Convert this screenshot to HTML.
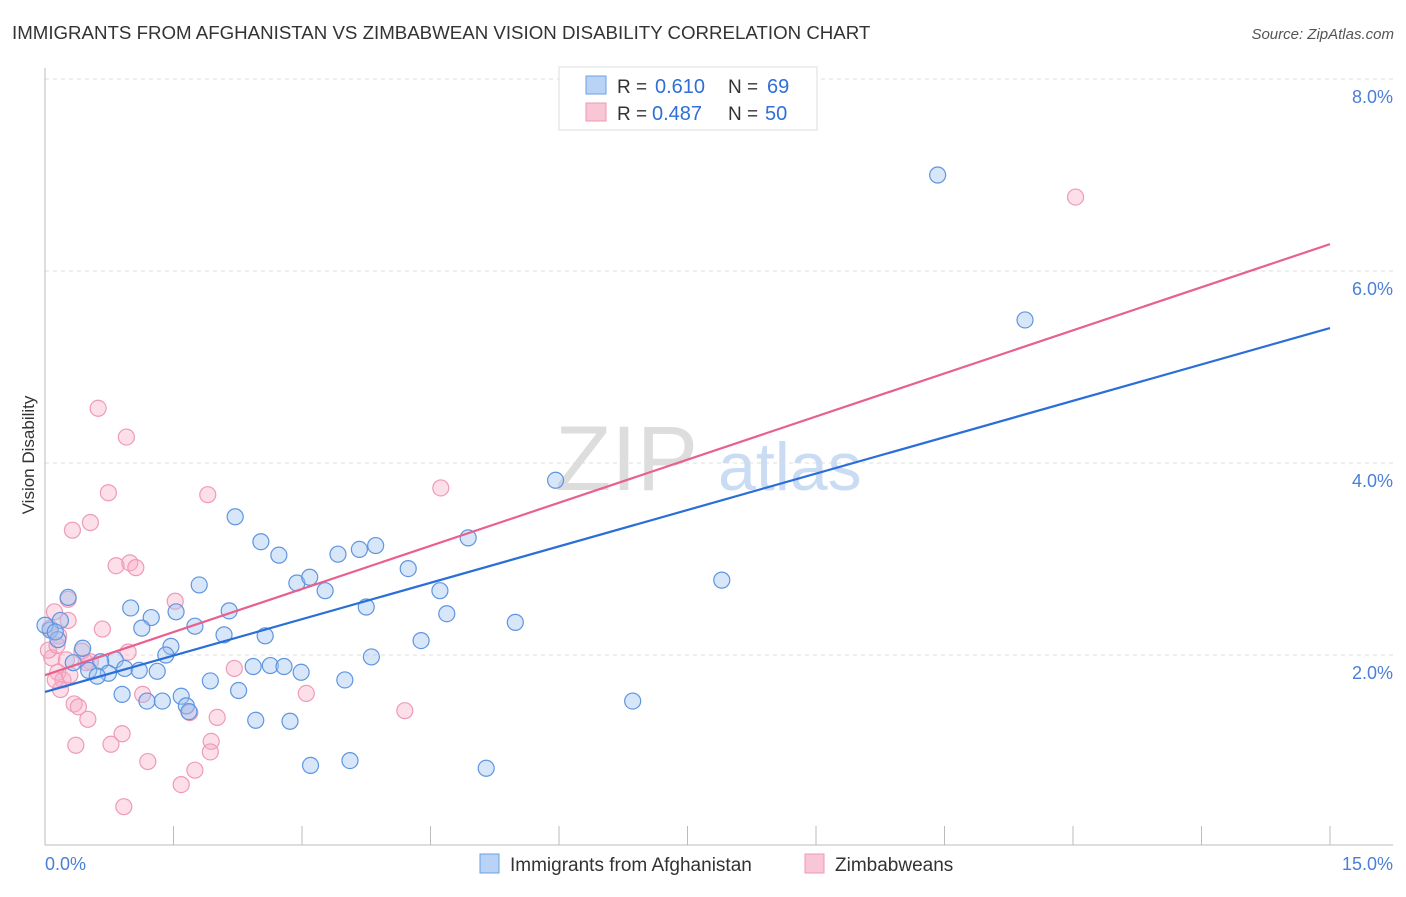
<!DOCTYPE html>
<html><head><meta charset="utf-8"><style>
body{margin:0;background:#fff;font-family:"Liberation Sans",sans-serif;}
svg text{font-family:"Liberation Sans",sans-serif;}
</style></head><body>
<svg width="1406" height="892" id="chart">
<text x="12" y="39" font-size="18.7" fill="#333">IMMIGRANTS FROM AFGHANISTAN VS ZIMBABWEAN VISION DISABILITY CORRELATION CHART</text>
<text x="1394" y="39" font-size="15" fill="#555" font-style="italic" text-anchor="end">Source: ZipAtlas.com</text>
<g><text x="555" y="490" font-size="92" fill="#ddd" font-family="Liberation Serif,serif">ZIP</text><text x="718" y="490" font-size="68" fill="#c9dcf3">atlas</text></g>
<g id="grid"></g>
<line x1="45" y1="68" x2="45" y2="845" stroke="#bbb"/>
<line x1="45" y1="845" x2="1393" y2="845" stroke="#bbb"/>
<g id="xticks"></g>
<text x="34" y="455" font-size="17" fill="#333" transform="rotate(-90 34 455)" text-anchor="middle">Vision Disability</text>
<text x="45" y="870" font-size="18" fill="#4a7fd6">0.0%</text>
<text x="1393" y="870" font-size="18" fill="#4a7fd6" text-anchor="end">15.0%</text>
<g id="pts"></g>
<g id="lines"></g>
<g>
<rect x="559" y="67" width="258" height="63" fill="#fff" stroke="#ddd"/>
<rect x="586" y="76" width="20" height="18" fill="#b8d3f5" stroke="#6d9fe3"/>
<rect x="586" y="103" width="20" height="18" fill="#f9c6d6" stroke="#ee98b6"/>
<text x="617" y="93" font-size="19" fill="#333">R =</text><text x="655" y="93" font-size="20" fill="#2f6fd6">0.610</text>
<text x="728" y="93" font-size="19" fill="#333">N =</text><text x="767" y="93" font-size="20" fill="#2f6fd6">69</text>
<text x="617" y="120" font-size="19" fill="#333">R =</text><text x="652" y="120" font-size="20" fill="#2f6fd6">0.487</text>
<text x="728" y="120" font-size="19" fill="#333">N =</text><text x="765" y="120" font-size="20" fill="#2f6fd6">50</text>
</g>
<g>
<rect x="480" y="854" width="19" height="19" fill="#b8d3f5" stroke="#6d9fe3"/>
<text x="510" y="871" font-size="19" fill="#333">Immigrants from Afghanistan</text>
<rect x="805" y="854" width="19" height="19" fill="#f9c6d6" stroke="#ee98b6"/>
<text x="835" y="871" font-size="19" fill="#333">Zimbabweans</text>
</g>
</svg>
<script>
const yTicks=[2,4,6,8];
const blueX=[10.42,11.44,5.96,2.22,2.52,2.73,3.42,3.67,3.86,4.94,4.24,2.94,3.09,3.27,1.80,4.61,3.75,4.69,5.49,7.90,0.27,1.00,1.24,1.53,2.15,1.13,1.75,2.09,2.57,4.39,1.47,1.41,0.18,0.06,0.15,0.44,0.33,0.82,0.65,0.51,0.93,1.10,1.31,0.74,0.61,2.43,2.63,2.79,2.99,3.81,1.93,0.90,1.19,1.37,1.59,1.65,2.26,3.50,6.86,2.46,2.86,1.68,3.10,3.56,5.15,0.00,0.12];
const blueY=[7.00,5.49,3.82,3.44,3.18,3.04,3.05,3.10,3.14,3.22,2.90,2.75,2.81,2.67,2.73,2.67,2.50,2.43,2.34,2.78,2.60,2.49,2.39,2.45,2.46,2.28,2.30,2.21,2.20,2.15,2.09,2.00,2.36,2.26,2.16,2.07,1.92,1.95,1.93,1.84,1.86,1.84,1.83,1.81,1.78,1.88,1.89,1.88,1.82,1.98,1.73,1.59,1.52,1.52,1.57,1.47,1.63,1.74,1.52,1.32,1.31,1.41,0.85,0.90,0.82,2.31,2.24];
const pinkX=[12.03,0.62,0.95,0.74,1.90,4.62,0.32,0.53,0.83,0.99,1.06,0.27,1.52,0.27,0.16,0.67,0.43,0.08,0.97,2.21,3.05,4.20,1.14,0.34,0.39,0.50,1.69,2.01,0.36,0.77,0.90,1.94,1.93,1.20,1.75,1.59,0.92,0.11,0.04,0.15,0.21,0.29,0.53,0.06,0.18,0.12,0.48,0.25,0.14];
const pinkY=[6.77,4.57,4.27,3.69,3.67,3.74,3.30,3.38,2.93,2.96,2.91,2.58,2.56,2.36,2.20,2.27,2.04,1.97,2.03,1.86,1.60,1.42,1.59,1.49,1.46,1.33,1.40,1.35,1.06,1.07,1.18,1.10,0.99,0.89,0.80,0.65,0.42,2.45,2.05,1.82,1.74,1.79,1.93,2.28,1.64,1.74,1.92,1.95,2.10];
const blueTrend=[1.615,5.406];
const pinkTrend=[1.79,6.28];
const NS='http://www.w3.org/2000/svg';
const sx=v=>45+v*(1330-45)/15;
const sy=v=>847-v*96;
function mk(t,a,p){const e=document.createElementNS(NS,t);for(const k in a)e.setAttribute(k,a[k]);p.appendChild(e);return e;}
const grid=document.getElementById('grid');
yTicks.forEach(v=>{
 const l=mk('line',{x1:45,x2:1393,y1:sy(v),y2:sy(v),stroke:'#ddd','stroke-dasharray':'4,4'},grid);
 
 
 const t=mk('text',{x:1393,y:sy(v)+24,'font-size':18,fill:'#4a7fd6','text-anchor':'end'},grid);
 t.textContent=v.toFixed(1)+'%';
 
 
});
const xt=document.getElementById('xticks');
for(let i=1;i<=10;i++){const l=mk('line',{x1:sx(i*1.5),x2:sx(i*1.5),y1:826,y2:845,stroke:'#bbb'},xt);
 
 }
const pts=document.getElementById('pts');
pinkX.forEach((x,i)=>{const c=mk('circle',{cx:sx(x),cy:sy(pinkY[i]),r:8,fill:'rgba(246,170,196,0.38)',stroke:'#ef9ab8','stroke-width':1.2},pts);
 
 });
blueX.forEach((x,i)=>{const c=mk('circle',{cx:sx(x),cy:sy(blueY[i]),r:8,fill:'rgba(160,196,240,0.42)',stroke:'#5f95e0','stroke-width':1.2},pts);
 
 });
const lines=document.getElementById('lines');
const bl=mk('line',{x1:sx(0),y1:sy(blueTrend[0]),x2:sx(15),y2:sy(blueTrend[1]),stroke:'#2a6fd8','stroke-width':2.2},lines);


const pl=mk('line',{x1:sx(0),y1:sy(pinkTrend[0]),x2:sx(15),y2:sy(pinkTrend[1]),stroke:'#e8608e','stroke-width':2.2},lines);


</script>
</body></html>
